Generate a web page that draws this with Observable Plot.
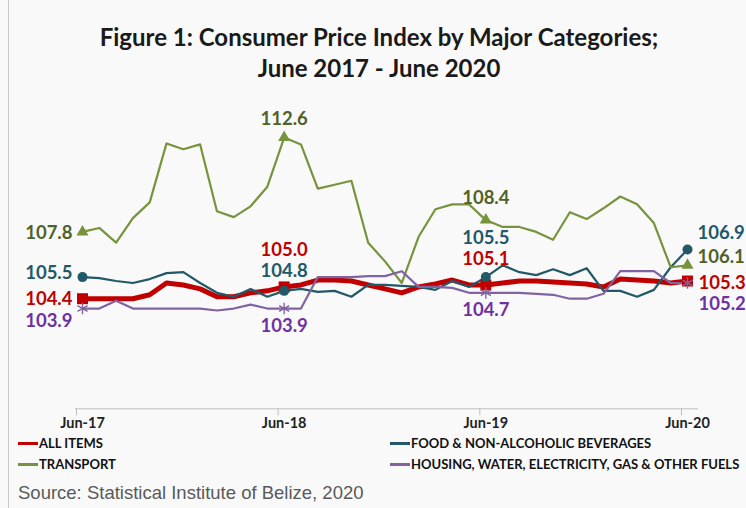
<!DOCTYPE html>
<html><head><meta charset="utf-8">
<script src="https://cdn.jsdelivr.net/npm/d3@7"></script>
<script src="https://cdn.jsdelivr.net/npm/@observablehq/plot@0.6"></script>
<style>
body{margin:0;background:#fff;}
#wrap{position:relative;width:746px;height:508px;background:#f9f9f9;overflow:hidden;font-family:Lato,sans-serif;}
#frame{position:absolute;left:8px;top:0;width:1px;height:508px;background:#c8c8c8;}
#title{position:absolute;left:12px;width:734px;top:21px;text-align:center;font-weight:bold;font-size:24px;line-height:31px;color:#1a1a1a;}
#chart{position:absolute;left:0;top:90px;width:746px;height:345px;}
#chart svg{max-width:none;}
.leg{position:absolute;font-weight:bold;font-size:13px;line-height:16px;color:#111;white-space:nowrap;}
.leg i{display:inline-block;width:20px;height:3px;vertical-align:middle;margin-right:1px;position:relative;top:-1px;}
#src{position:absolute;left:18px;top:482px;font-family:"Liberation Sans",Arial,sans-serif;font-size:18.5px;line-height:21px;color:#595959;}
</style></head>
<body>
<div id="wrap">
  <div id="frame"></div>
  <div id="title">Figure 1: Consumer Price Index by Major Categories;<br>June 2017 - June 2020</div>
  <div id="chart"></div>
  <div id="legend"></div>
  <div id="src">Source: Statistical Institute of Belize, 2020</div>
</div>
<script>
const months = ["Jun-17","Jul-17","Aug-17","Sep-17","Oct-17","Nov-17","Dec-17","Jan-18","Feb-18","Mar-18","Apr-18","May-18",
  "Jun-18","Jul-18","Aug-18","Sep-18","Oct-18","Nov-18","Dec-18","Jan-19","Feb-19","Mar-19","Apr-19","May-19",
  "Jun-19","Jul-19","Aug-19","Sep-19","Oct-19","Nov-19","Dec-19","Jan-20","Feb-20","Mar-20","Apr-20","May-20","Jun-20"];
const tickMonths = ["Jun-17","Jun-18","Jun-19","Jun-20"];
const seriesNames = ["ALL ITEMS","FOOD & NON-ALCOHOLIC BEVERAGES","TRANSPORT","HOUSING, WATER, ELECTRICITY, GAS & OTHER FUELS"];

const allItems = [104.4,104.4,104.4,104.4,104.6,105.2,105.1,104.9,104.5,104.5,104.7,104.8,105.0,
  105.1,105.35,105.35,105.3,105.1,104.9,104.7,105.0,105.15,105.35,105.1,
  105.1,105.2,105.3,105.3,105.25,105.2,105.15,105.0,105.4,105.35,105.3,105.2,105.3];
const food = [105.5,105.45,105.3,105.2,105.4,105.7,105.75,105.2,104.7,104.5,104.9,104.5,104.8,
  104.9,104.75,104.8,104.5,105.1,105.1,105.05,105.0,104.85,105.3,105.0,
  105.5,106.1,105.75,105.6,105.9,105.6,105.95,104.8,104.8,104.5,104.85,106.0,106.9];
const transport = [107.8,108.0,107.25,108.5,109.3,112.3,112.0,112.25,108.85,108.55,109.1,110.1,112.6,
  112.25,110.0,110.2,110.4,107.25,106.3,105.2,107.55,108.95,109.2,109.2,
  108.4,108.05,108.05,107.8,107.4,108.8,108.45,109.0,109.6,109.2,108.25,106.0,106.1];
const housing = [103.9,103.9,104.3,103.9,103.9,103.9,103.9,103.9,103.8,103.9,104.1,103.9,103.9,
  103.9,105.5,105.5,105.5,105.55,105.55,105.8,105.0,105.0,104.95,104.7,
  104.7,104.7,104.7,104.65,104.6,104.4,104.4,104.65,105.8,105.8,105.8,105.2,105.2];

const monthIndex = new Map(months.map((m, i) => [m, i]));
const tickIdx = tickMonths.map(m => monthIndex.get(m));
const yMin = 98.8, yMax = 114;

const series = [
  {name: seriesNames[0], values: allItems, stroke: "#C00000", text: "#C00000", width: 5, symbol: "square", r: 6.2, fill: "#C00000",
   offs: [[-10,0,"end"],[0,-37,"middle"],[0,-26,"middle"],[11,2,"start"]]},
  {name: seriesNames[1], values: food, stroke: "#215968", text: "#215968", width: 2.2, symbol: "circle", r: 5, fill: "#215968",
   offs: [[-10,-4,"end"],[0,-20,"middle"],[0,-39,"middle"],[10,-16,"start"]]},
  {name: seriesNames[2], values: transport, stroke: "#77933C", text: "#4F6228", width: 2.2, symbol: "triangle", r: 4.5, fill: "#77933C",
   offs: [[-10,1,"end"],[0,-18,"middle"],[0,-22,"middle"],[10,-8,"start"]]},
  {name: seriesNames[3], values: housing, stroke: "#8064A2", text: "#7030A0", width: 2.2, symbol: "asterisk", r: 5.5, fill: "none",
   offs: [[-10,13,"end"],[0,18,"middle"],[0,17,"middle"],[11,21,"start"]]}
];

const marks = [
  Plot.ruleY([yMin], {stroke: "#bfbfbf", strokeWidth: 1, insetLeft: -7, insetRight: -11}),
  Plot.ruleX(tickIdx, {x: d => d, y1: yMin, y2: yMin - 0.36, stroke: "#bfbfbf", dx: -6}),
  Plot.axisX({ticks: tickIdx, tickFormat: i => months[i], tickSize: 0, tickPadding: 9, fontWeight: "bold", fontSize: 14.5, fill: "#222"})
];
for (const s of series) {
  marks.push(Plot.line(s.values, {x: (d, i) => i, y: d => d, stroke: s.stroke, strokeWidth: s.width, strokeLinejoin: "round"}));
}
for (const s of series) {
  marks.push(Plot.dot(tickIdx, {x: i => i, y: i => s.values[i], symbol: s.symbol, r: s.r,
    fill: s.fill, stroke: s.symbol === "asterisk" ? s.stroke : "none", strokeWidth: 1.4}));
}
for (const s of series) {
  tickIdx.forEach((idx, k) => {
    const [dx, dy, anchor] = s.offs[k];
    marks.push(Plot.text([idx], {x: i => i, y: i => s.values[i], text: i => s.values[i].toFixed(1),
      dx, dy, textAnchor: anchor, fill: s.text, fontSize: 18.5, fontWeight: "bold"}));
  });
}

const chart = Plot.plot({
  width: 746,
  height: 345,
  marginTop: 19.5,
  marginBottom: 26.7,
  marginLeft: 82,
  marginRight: 59,
  style: {background: "transparent", fontFamily: "Lato, sans-serif", overflow: "visible", maxWidth: "none"},
  x: {type: "linear", domain: [0, months.length - 1], range: [82, 687], axis: null},
  y: {domain: [yMin, yMax], range: [318.3, 19.5], axis: null},
  marks
});
document.getElementById("chart").appendChild(chart);

const legendPos = [[18, 435], [390, 435], [18, 456], [390, 456]];
const legend = document.getElementById("legend");
series.forEach((s, k) => {
  const el = document.createElement("div");
  el.className = "leg";
  el.style.left = legendPos[k][0] + "px";
  el.style.top = legendPos[k][1] + "px";
  el.innerHTML = `<i style="background:${s.stroke}"></i>${s.name}`;
  legend.appendChild(el);
});
</script>
</body></html>
